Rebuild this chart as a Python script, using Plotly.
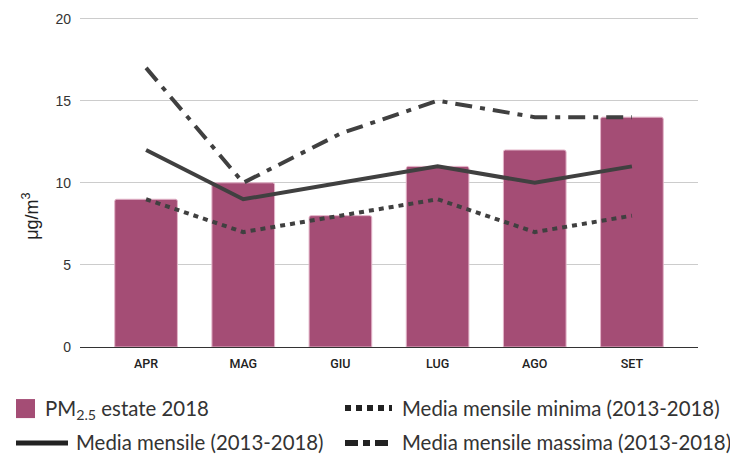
import plotly.graph_objects as go

months = ["APR", "MAG", "GIU", "LUG", "AGO", "SET"]
pm25_2018 = [9, 10, 8, 11, 12, 14]
media_mensile = [12, 9, 10, 11, 10, 11]
media_minima = [9, 7, 8, 9, 7, 8]
media_massima = [17, 10, 13, 15, 14, 14]
y_ticks = [0, 5, 10, 15, 20]

BAR = "#A44D75"
LINE = "#404040"
OFF = 8  # page body margin offset
W, H = 738 - OFF, 454 - OFF
L, R, T, B = 80 - OFF, 40, 17.4 - OFF, 107
PW, PH = W - L - R, H - T - B


def px(x):
    return (x - OFF - L) / PW


def py(y):
    return (H - B - (y - OFF)) / PH


fig = go.Figure()
fig.add_trace(go.Bar(x=months, y=pm25_2018, marker=dict(color=BAR, line=dict(color="#E3B5C9", width=1)),
                     width=0.645, showlegend=False))
fig.add_trace(go.Scatter(x=months, y=media_mensile, mode="lines", line=dict(color=LINE, width=4), showlegend=False))
fig.add_trace(go.Scatter(x=months, y=media_minima, mode="lines",
                         line=dict(color=LINE, width=4, dash="5px,5px"), showlegend=False))
fig.add_trace(go.Scatter(x=months, y=media_massima, mode="lines",
                         line=dict(color=LINE, width=4, dash="17px,8px,5px,8px"), showlegend=False))

shapes = []
annotations = []
LF = dict(family="Lato, Open Sans, sans-serif", size=20.4, color="#333")
# legend entries
shapes.append(dict(type="rect", xref="paper", yref="paper", x0=px(16), x1=px(35), y0=py(418), y1=py(399),
                   fillcolor=BAR, line=dict(width=0)))
annotations.append(dict(xref="paper", yref="paper", x=px(43), y=py(409), xanchor="left", yanchor="middle",
                        text="PM<sub>2.5</sub> estate 2018", showarrow=False, font=LF))
shapes.append(dict(type="line", xref="paper", yref="paper", x0=px(16), x1=px(68), y0=py(443), y1=py(443),
                   line=dict(color="#222", width=5)))
annotations.append(dict(xref="paper", yref="paper", x=px(74), y=py(442), xanchor="left", yanchor="middle",
                        text="Media mensile (2013-2018)", showarrow=False, font=LF))
shapes.append(dict(type="line", xref="paper", yref="paper", x0=px(345), x1=px(392), y0=py(408), y1=py(408),
                   line=dict(color="#222", width=6, dash="6px,5px")))
annotations.append(dict(xref="paper", yref="paper", x=px(400), y=py(408), xanchor="left", yanchor="middle",
                        text="Media mensile minima (2013-2018)", showarrow=False, font=LF))
shapes.append(dict(type="line", xref="paper", yref="paper", x0=px(345), x1=px(392), y0=py(443), y1=py(443),
                   line=dict(color="#222", width=6, dash="13px,5px,7px,5px")))
annotations.append(dict(xref="paper", yref="paper", x=px(400), y=py(442), xanchor="left", yanchor="middle",
                        text="Media mensile massima (2013-2018)", showarrow=False, font=LF))
# y axis title
annotations.append(dict(xref="paper", yref="paper", x=px(31), y=py(217), xanchor="center", yanchor="middle",
                        text="μg/m<sup>3</sup>", textangle=-90, showarrow=False,
                        font=dict(family="Liberation Sans, Arial, sans-serif", size=18, color="#222")))

fig.update_layout(
    width=W, height=H,
    margin=dict(l=L, r=R, t=T, b=B),
    plot_bgcolor="white", paper_bgcolor="white",
    barcornerradius=2,
    shapes=shapes, annotations=annotations,
    xaxis=dict(range=[-0.68, 5.68], showline=True, linecolor="#333", linewidth=1, ticks="", automargin=False,
               ticklabelstandoff=5,
               tickfont=dict(family="Roboto, sans-serif", size=12.5, color="#222", weight=500), showgrid=False),
    yaxis=dict(range=[0, 20.1], tickvals=y_ticks, showgrid=True, gridcolor="#CCCCCC", gridwidth=1,
               zeroline=False, ticks="", ticklabelstandoff=8, automargin=False,
               tickfont=dict(family="Liberation Sans, Arial, sans-serif", size=14, color="#333")),
)
fig.write_html("out.html")
